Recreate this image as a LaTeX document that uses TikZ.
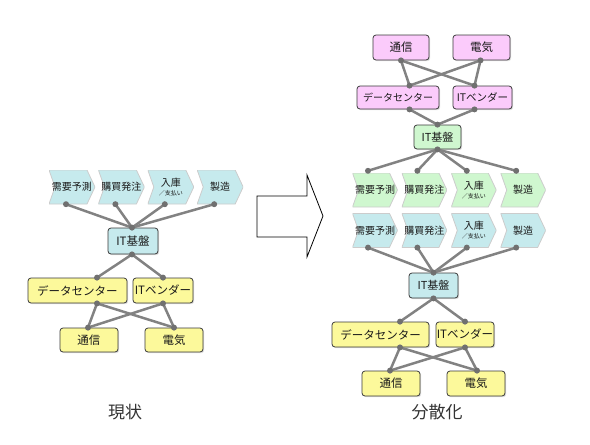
\documentclass[tikz,border=0pt]{standalone}
\usepackage{fontspec}
\setmainfont{Noto Sans CJK JP}
\usetikzlibrary{positioning,shadows}

\definecolor{boxline}{HTML}{3A3A3A}
\definecolor{wiregray}{HTML}{828282}
\definecolor{dotgray}{HTML}{707070}
\definecolor{cyanfill}{HTML}{C6EAED}
\definecolor{greenfill}{HTML}{CFF7CF}
\definecolor{pinkfill}{HTML}{FBCBFB}
\definecolor{yellowfill}{HTML}{FCF99B}
\definecolor{labeltext}{HTML}{333333}

\tikzset{
  box/.style={draw=boxline, line width=0.8pt, rounded corners=3pt, fill=#1, inner sep=0pt,
    text=black!90, font=\fontsize{11.5}{13}\selectfont,
    drop shadow={shadow xshift=1.2pt, shadow yshift=-1.2pt, fill=black!25, opacity=0.5}},
  chev/.style={rectangle, inner sep=0pt, minimum width=46pt, minimum height=34pt,
    text=black!90, font=\fontsize{10}{11}\selectfont, align=center,
    path picture={\path[fill=#1, draw=black!20, line width=0.8pt]
      (path picture bounding box.north west) -- ([xshift=-8pt]path picture bounding box.north east)
      -- (path picture bounding box.east) -- ([xshift=-8pt]path picture bounding box.south east)
      -- (path picture bounding box.south west) -- ([xshift=6pt]path picture bounding box.west) -- cycle;}},
  wire/.style={draw=wiregray, line width=2.5pt},
  dot/.style={fill=dotgray},
  lbl/.style={text=labeltext, font=\fontsize{17}{19}\selectfont},
}
\newcommand{\nyuko}{入庫\\[-2pt]{\fontsize{6}{7}\selectfont ／支払い}}

\begin{document}
\begin{tikzpicture}[x=1pt, y=-1pt]
\useasboundingbox (0,0) rectangle (590,445);

% current state
\node[chev=cyanfill] (lc1) at (72,187) {需要予測};
\node[chev=cyanfill] (lc2) [right=3pt of lc1] {購買発注};
\node[chev=cyanfill] (lc3) [right=3pt of lc2] {\nyuko};
\node[chev=cyanfill] (lc4) [right=3pt of lc3] {製造};
\node[box=cyanfill, minimum width=50pt, minimum height=26pt] (lit) at (133,241) {IT基盤};
\node[box=yellowfill, minimum width=99pt, minimum height=25pt] (ldc) at (77.5,290.5) {データセンター};
\node[box=yellowfill, minimum width=60pt, minimum height=25pt] (liv) at (163,290.5) {ITベンダー};
\node[box=yellowfill, minimum width=58pt, minimum height=24pt] (ltu) at (89,340) {通信};
\node[box=yellowfill, minimum width=58pt, minimum height=24pt] (lde) at (174,340) {電気};

\foreach \n in {1,...,4} \coordinate (lc\n-s) at ([xshift=-6pt]lc\n.south);
\coordinate (lit-n) at ([xshift=-1pt]lit.north);
\coordinate (lit-s) at ([xshift=-1pt]lit.south);
\coordinate (ldc-n) at ([xshift=19.5pt]ldc.north);
\coordinate (ldc-s) at ([xshift=19.5pt]ldc.south);
\coordinate (liv-n) at (liv.north);
\coordinate (liv-s) at (liv.south);
\coordinate (ltu-n) at ([xshift=-1pt]ltu.north);
\coordinate (lde-n) at (lde.north);

\foreach \n in {1,...,4} \draw[wire] (lc\n-s) -- (lit-n);
\draw[wire] (lit-s) -- (ldc-n);
\draw[wire] (lit-s) -- (liv-n);
\foreach \a in {ldc,liv} \foreach \b in {ltu,lde} \draw[wire] (\a-s) -- (\b-n);

\foreach \p in {lc1-s,lc2-s,lc3-s,lc4-s,lit-n,lit-s,ldc-n,ldc-s,liv-n,liv-s,ltu-n,lde-n}
  \fill[dot] (\p) circle (3pt);

\node[lbl] (now) at (125,412) {現状};

% the big arrow
\draw[line width=0.8pt, line join=miter] (257,196) -- (307,196) -- (307,175) -- (323,216)
  -- (307,257) -- (307,237) -- (257,237) -- cycle;

% distributed
\node[box=pinkfill, minimum width=56pt, minimum height=25pt] (rtu) at (401,47.5) {通信};
\node[box=pinkfill, minimum width=57pt, minimum height=25pt] (rde) at (481.5,47.5) {電気};
\node[box=pinkfill, minimum width=82pt, minimum height=23pt, font=\fontsize{10}{12}\selectfont] (rdc) at (398,97.5) {データセンター};
\node[box=pinkfill, minimum width=59pt, minimum height=23pt, font=\fontsize{10.5}{12}\selectfont] (riv) at (482.5,97.5) {ITベンダー};
\node[box=greenfill, minimum width=47pt, minimum height=24pt, font=\fontsize{11}{13}\selectfont] (rit) at (437.5,137) {IT基盤};

\node[chev=greenfill, minimum width=45pt] (rg1) at (375,190) {需要予測};
\node[chev=greenfill, minimum width=45pt] (rg2) [right=4pt of rg1] {購買発注};
\node[chev=greenfill, minimum width=45pt] (rg3) [right=4pt of rg2] {\nyuko};
\node[chev=greenfill, minimum width=45pt] (rg4) [right=4pt of rg3] {製造};
\node[chev=cyanfill, minimum width=45pt] (rc1) [below=6pt of rg1] {需要予測};
\node[chev=cyanfill, minimum width=45pt] (rc2) [right=4pt of rc1] {購買発注};
\node[chev=cyanfill, minimum width=45pt] (rc3) [right=4pt of rc2] {\nyuko};
\node[chev=cyanfill, minimum width=45pt] (rc4) [right=4pt of rc3] {製造};

\node[box=cyanfill, minimum width=49pt, minimum height=25pt, font=\fontsize{11}{13}\selectfont] (rib) at (433.5,285.5) {IT基盤};
\node[box=yellowfill, minimum width=97pt, minimum height=25pt] (rdc2) at (380.5,334.5) {データセンター};
\node[box=yellowfill, minimum width=58pt, minimum height=25pt] (riv2) at (465,334.5) {ITベンダー};
\node[box=yellowfill, minimum width=58pt, minimum height=25pt] (rtu2) at (391,383.5) {通信};
\node[box=yellowfill, minimum width=58pt, minimum height=25pt] (rde2) at (476,383.5) {電気};

\coordinate (rtu-s) at (rtu.south);
\coordinate (rde-s) at ([xshift=-1pt]rde.south);
\coordinate (rdc-n) at ([xshift=11.5pt]rdc.north);
\coordinate (rdc-s) at ([xshift=11.5pt]rdc.south);
\coordinate (riv-n) at ([xshift=-8pt]riv.north);
\coordinate (riv-s) at ([xshift=-8pt]riv.south);
\coordinate (rit-n) at (rit.north);
\coordinate (rit-s) at (rit.south);
\foreach \n in {1,...,4} {
  \coordinate (rg\n-n) at ([xshift=-7pt,yshift=2pt]rg\n.north);
  \coordinate (rc\n-s) at ([xshift=-7pt]rc\n.south);
}
\coordinate (rib-n) at (rib.north);
\coordinate (rib-s) at (rib.south);
\coordinate (rdc2-n) at ([xshift=19.5pt]rdc2.north);
\coordinate (rdc2-s) at ([xshift=19.5pt]rdc2.south);
\coordinate (riv2-n) at (riv2.north);
\coordinate (riv2-s) at (riv2.south);
\coordinate (rtu2-n) at ([xshift=-1pt]rtu2.north);
\coordinate (rde2-n) at ([xshift=1pt]rde2.north);

\foreach \a in {rtu,rde} \foreach \b in {rdc,riv} \draw[wire] (\a-s) -- (\b-n);
\draw[wire] (rdc-s) -- (rit-n);
\draw[wire] (riv-s) -- (rit-n);
\foreach \n in {1,...,4} {
  \draw[wire] (rit-s) -- (rg\n-n);
  \draw[wire] (rc\n-s) -- (rib-n);
}
\draw[wire] (rib-s) -- (rdc2-n);
\draw[wire] (rib-s) -- (riv2-n);
\foreach \a in {rdc2,riv2} \foreach \b in {rtu2,rde2} \draw[wire] (\a-s) -- (\b-n);

\foreach \p in {rtu-s,rde-s,rdc-n,rdc-s,riv-n,riv-s,rit-n,rit-s,rg1-n,rg2-n,rg3-n,rg4-n,
  rc1-s,rc2-s,rc3-s,rc4-s,rib-n,rib-s,rdc2-n,rdc2-s,riv2-n,riv2-s,rtu2-n,rde2-n}
  \fill[dot] (\p) circle (3pt);

\node[lbl] (dist) at (437,412) {分散化};
\end{tikzpicture}
\end{document}
